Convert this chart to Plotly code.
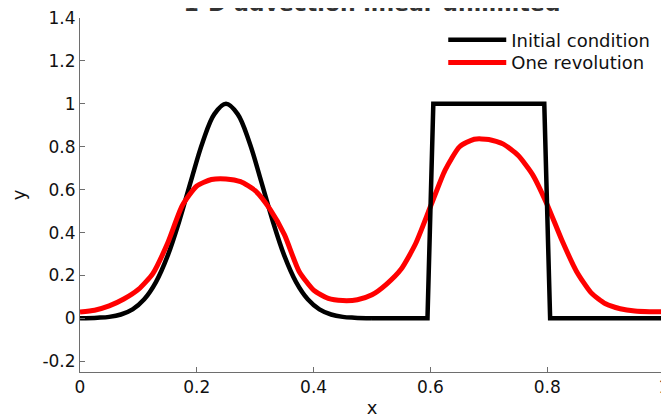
import plotly.graph_objects as go

# Initial condition (black): Gaussian hump + square wave
init_x = [0.0, 0.03, 0.05, 0.07, 0.09, 0.11, 0.13, 0.15, 0.17, 0.19, 0.21, 0.23, 0.25,
          0.27, 0.29, 0.31, 0.33, 0.35, 0.37, 0.39, 0.41, 0.43, 0.45, 0.47, 0.5,
          0.595, 0.605, 0.795, 0.805, 1.0]
init_y = [0.0, 0.003, 0.007, 0.018, 0.042, 0.089, 0.169, 0.291, 0.454, 0.641, 0.821, 0.952, 1.0,
          0.952, 0.821, 0.641, 0.454, 0.291, 0.169, 0.089, 0.042, 0.018, 0.007, 0.003, 0.0,
          0.0, 1.0, 1.0, 0.0, 0.0]

# After one revolution (red)
rev_x = [0.0, 0.025, 0.05, 0.075, 0.1, 0.125, 0.15, 0.175, 0.2, 0.225, 0.25, 0.275, 0.3,
         0.325, 0.35, 0.375, 0.4, 0.425, 0.45, 0.475, 0.5, 0.525, 0.55, 0.575, 0.6,
         0.625, 0.65, 0.675, 0.7, 0.725, 0.75, 0.775, 0.8, 0.825, 0.85, 0.875, 0.9,
         0.925, 0.95, 0.975, 1.0]
rev_y = [0.03, 0.038, 0.058, 0.09, 0.135, 0.21, 0.35, 0.525, 0.617, 0.647, 0.65, 0.637, 0.595,
         0.51, 0.39, 0.22, 0.132, 0.093, 0.083, 0.087, 0.11, 0.16, 0.23, 0.35, 0.52,
         0.69, 0.80, 0.835, 0.834, 0.812, 0.76, 0.67, 0.53, 0.365, 0.22, 0.12, 0.068,
         0.045, 0.034, 0.031, 0.031]

x_ticks = [0, 0.2, 0.4, 0.6, 0.8, 1]
x_labels = ["0", "0.2", "0.4", "0.6", "0.8", "1"]
y_ticks = [-0.2, 0, 0.2, 0.4, 0.6, 0.8, 1, 1.2, 1.4]
y_labels = ["-0.2", "0", "0.2", "0.4", "0.6", "0.8", "1", "1.2", "1.4"]

FONT = "DejaVu Sans"
AX = "#6e6e6e"
split = init_x.index(0.5)  # end of the smooth hump, start of the square wave

fig = go.Figure()
fig.add_trace(go.Scatter(x=init_x[:split + 1], y=init_y[:split + 1], mode="lines",
                         name="Initial condition", legendgroup="init", legend="legend",
                         line=dict(color="black", width=4.5, shape="spline", smoothing=1.0)))
fig.add_trace(go.Scatter(x=rev_x, y=rev_y, mode="lines", name="One revolution",
                         legendgroup="rev", legend="legend2",
                         line=dict(color="#ff0000", width=5, shape="spline", smoothing=0.6)))
fig.add_trace(go.Scatter(x=init_x[split:], y=init_y[split:], mode="lines",
                         name="Initial condition", legendgroup="init", showlegend=False,
                         line=dict(color="black", width=4.5)))

legend_style = dict(xanchor="left", yanchor="top",
                    bgcolor="rgba(255,255,255,0)", borderwidth=0,
                    font=dict(family=FONT, size=18, color="#111"),
                    itemwidth=58, tracegroupgap=0)

fig.update_layout(
    width=669, height=420,
    margin=dict(l=72, r=13, t=10, b=56, autoexpand=False),
    paper_bgcolor="white", plot_bgcolor="white",
    font=dict(family=FONT, size=17, color="#111"),
    title=dict(text="<b>1-D advection linear unlimited</b>", x=0.5, xanchor="center",
               xref="paper", y=1.0, yref="paper", yanchor="bottom", pad=dict(b=7),
               automargin=False,
               font=dict(family=FONT, size=22, color="#333")),
    showlegend=True,
    legend=dict(x=0.622, y=0.99, **legend_style),
    legend2=dict(x=0.622, y=0.926, **legend_style),
    xaxis=dict(range=[0, 1], tickvals=x_ticks, ticktext=x_labels, automargin=False,
               showline=True, linecolor=AX, linewidth=1, mirror=False,
               ticks="inside", ticklen=5, tickcolor=AX, showgrid=False, zeroline=False,
               ticklabeloverflow="allow",
               tickfont=dict(family=FONT, size=17, color="#111"),
               title=dict(text="x", font=dict(family=FONT, size=18), standoff=4)),
    yaxis=dict(range=[-0.25, 1.4], tickvals=y_ticks, ticktext=y_labels, automargin=False,
               showline=True, linecolor=AX, linewidth=1, mirror=False,
               ticks="inside", ticklen=5, tickcolor=AX, showgrid=False, zeroline=False,
               ticklabeloverflow="allow",
               tickfont=dict(family=FONT, size=17, color="#111"),
               title=dict(text="y", font=dict(family=FONT, size=18), standoff=24)),
)

fig.write_html("out.html")
